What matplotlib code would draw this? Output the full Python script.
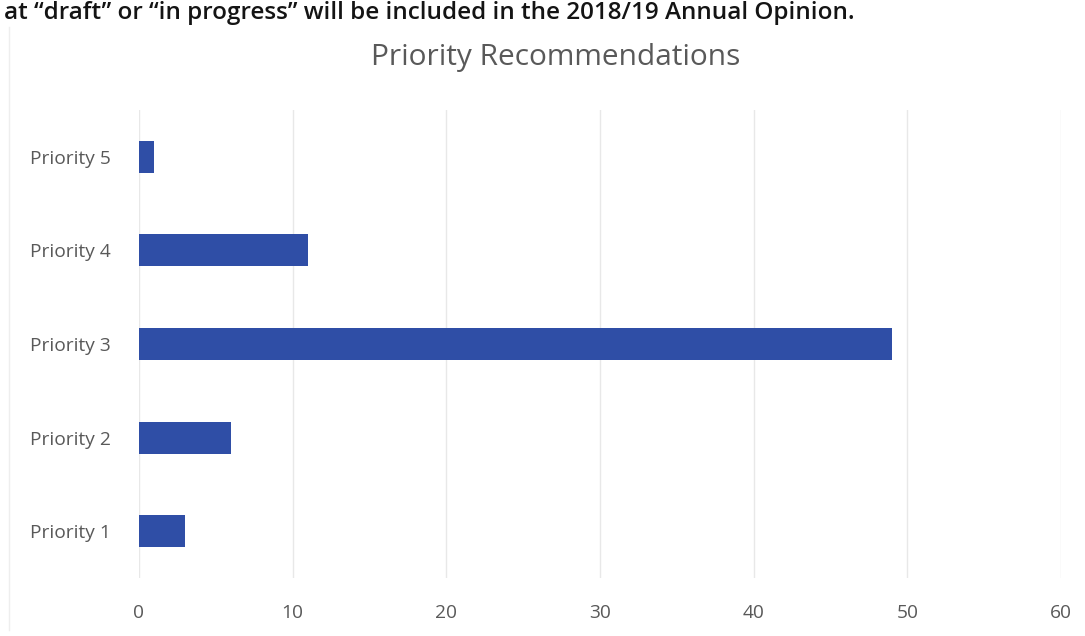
import matplotlib
matplotlib.use("Agg")
import matplotlib.pyplot as plt

categories = ["Priority 1", "Priority 2", "Priority 3", "Priority 4", "Priority 5"]
values = [3, 6, 49, 11, 1]
xticks = [0, 10, 20, 30, 40, 50, 60]
title = "Priority Recommendations"
header = "at \u201cdraft\u201d or \u201cin progress\u201d will be included in the 2018/19 Annual Opinion."

W, H = 1085, 636
fig = plt.figure(figsize=(W / 100, H / 100), dpi=100)
fig.patch.set_facecolor("white")

# axes: x 139..1061, y 110..578 (pixels from top)
ax = fig.add_axes([139 / W, 1 - 578 / H, (1061 - 139) / W, (578 - 110) / H])
ypos = list(range(len(categories)))
ax.barh(ypos, values, height=0.34, color="#2f4ea6", zorder=3)
ax.set_xlim(0, 60)
ax.set_ylim(-0.5, len(categories) - 0.5)
ax.set_xticks(xticks)
ax.set_xticklabels([str(t) for t in xticks])
ax.set_yticks(ypos)
ax.set_yticklabels(categories)
ax.grid(axis="x", color="#e8e8e8", linewidth=1, zorder=0)
for s in ax.spines.values():
    s.set_visible(False)
ax.tick_params(axis="both", length=0, labelsize=13.8, labelcolor="#595959")
ax.tick_params(axis="x", pad=19)
ax.tick_params(axis="y", pad=20)
for lbl in ax.get_xticklabels() + ax.get_yticklabels():
    lbl.set_family("Open Sans")

fig.text(556 / W, 1 - 58 / H, title, ha="center", va="center",
         fontsize=21.5, color="#595959", family="Open Sans")

# header line from the document above the chart
fig.text(4 / W, 1 - 1 / H, header, ha="left", va="top",
         fontsize=17.5, color="#141414", family="Open Sans", weight="semibold")

# faint chart frame line on the left
fig.add_artist(plt.Line2D([9 / W, 9 / W], [1 - 630 / H, 1 - 27 / H],
                          color="#eeeeee", linewidth=1, transform=fig.transFigure))

fig.savefig("out.png", dpi=100, facecolor="white")
